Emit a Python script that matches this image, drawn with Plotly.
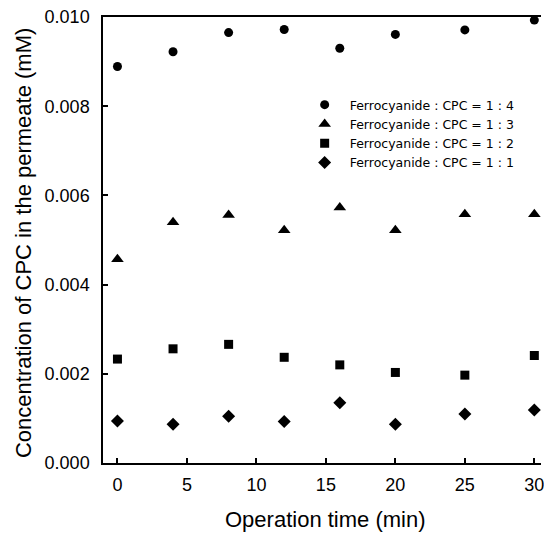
import plotly.graph_objects as go

time_min = [0, 4, 8, 12, 16, 20, 25, 30]
ratio_1_4 = [0.00889, 0.00922, 0.00965, 0.00972, 0.00930, 0.00961, 0.00971, 0.00993]
ratio_1_3 = [0.00457, 0.00540, 0.00556, 0.00522, 0.00573, 0.00522, 0.00558, 0.00558]
ratio_1_2 = [0.00233, 0.00256, 0.00266, 0.00237, 0.00220, 0.00203, 0.00197, 0.00241]
ratio_1_1 = [0.00094, 0.00087, 0.00105, 0.00093, 0.00135, 0.00087, 0.00110, 0.00119]

series_names = ["Ferrocyanide : CPC = 1 : 4", "Ferrocyanide : CPC = 1 : 3",
                "Ferrocyanide : CPC = 1 : 2", "Ferrocyanide : CPC = 1 : 1"]
x_ticks = [0, 5, 10, 15, 20, 25, 30]
y_ticks = [0.000, 0.002, 0.004, 0.006, 0.008, 0.010]

FONT = "Arial, Liberation Sans, sans-serif"

fig = go.Figure()
symbols = ["circle", "triangle-up", "square", "diamond"]
sizes = [9, 11, 9, 10]
for name, vals, sym, sz in zip(series_names, [ratio_1_4, ratio_1_3, ratio_1_2, ratio_1_1], symbols, sizes):
    fig.add_trace(go.Scatter(x=time_min, y=vals, mode="markers", name=name,
                             marker=dict(symbol=sym, size=sz, color="black"),
                             cliponaxis=False))

W, H = 544, 533
L, R, T, B = 103, 0, 17, 70
pw, ph = W - L - R, H - T - B

fig.update_layout(
    width=W, height=H,
    margin=dict(l=L, r=R, t=T, b=B),
    paper_bgcolor="white", plot_bgcolor="white",
    font=dict(family=FONT, color="black"),
    showlegend=True,
    legend=dict(x=(301 - L) / pw, y=(H - B - 90) / ph, xanchor="left", yanchor="top",
                bgcolor="rgba(0,0,0,0)", font=dict(size=12.5, family="DejaVu Sans, sans-serif"),
                itemwidth=40, tracegroupgap=0),
    xaxis=dict(range=[-1.04, 30.48], tickvals=x_ticks, ticktext=[str(v) for v in x_ticks],
               ticks="inside", ticklen=5, tickwidth=1.5, tickcolor="black",
               showline=True, linecolor="black", linewidth=1.5, mirror=True,
               showgrid=False, zeroline=False, ticklabeloverflow="allow",
               tickfont=dict(size=18, family=FONT), ticklabelstandoff=5),
    yaxis=dict(range=[0, 0.010], tickvals=y_ticks, ticktext=[f"{v:.3f}" for v in y_ticks],
               ticks="inside", ticklen=5, tickwidth=1.5, tickcolor="black",
               showline=True, linecolor="black", linewidth=1.5, mirror=False,
               showgrid=False, zeroline=False,
               tickfont=dict(size=18, family=FONT), ticklabelstandoff=8),
    annotations=[
        dict(text="Operation time (min)", xref="paper", yref="paper",
             x=(327 - L) / pw, y=-(519 - (H - B)) / ph, xanchor="center", yanchor="middle",
             showarrow=False, font=dict(size=22, family=FONT)),
        dict(text="Concentration of CPC in the permeate (mM)", xref="paper", yref="paper",
             x=(22.5 - L) / pw, y=((H - B) - 243) / ph, xanchor="center", yanchor="middle",
             textangle=-90, showarrow=False, font=dict(size=22, family=FONT)),
    ],
)

fig.write_html("out.html")
